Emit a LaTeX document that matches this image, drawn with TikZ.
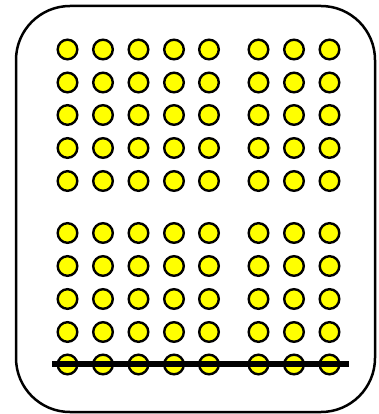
\documentclass[tikz,border=0pt]{standalone}
\usepackage{tikz}
\usepackage{xcolor}
\definecolor{dotyellow}{RGB}{255, 255, 0}
\usetikzlibrary{positioning}

\tikzset{
    dot/.style={circle, draw=black, fill=dotyellow, line width=2.4pt, minimum size=19.6pt, inner sep=0pt},
    frame/.style={draw=black, line width=2.5pt, rounded corners=54pt},
    cutline/.style={black, line width=5.5pt}
}

\begin{document}
\begin{tikzpicture}[x=1pt, y=-1pt]
    \useasboundingbox (0,0) rectangle (378,414);

    % Outer frame
    \draw[frame] (16,6) rectangle (375,412);

    % Grid of dots
    \foreach \cx [count=\i] in {67.5, 103, 138.5, 174, 209, 258.5, 294, 329.5} {
        \foreach \cy [count=\j] in {49.5, 82.5, 115, 148, 181, 233, 266, 299, 332, 364.5} {
            \node[dot] (d-\i-\j) at (\cx, \cy) {};
        }
    }

    % Line across the bottom row
    \coordinate (lineL) at (52, 364);
    \coordinate (lineR) at (349, 364);
    \draw[cutline] (lineL) -- (lineR);
\end{tikzpicture}
\end{document}
